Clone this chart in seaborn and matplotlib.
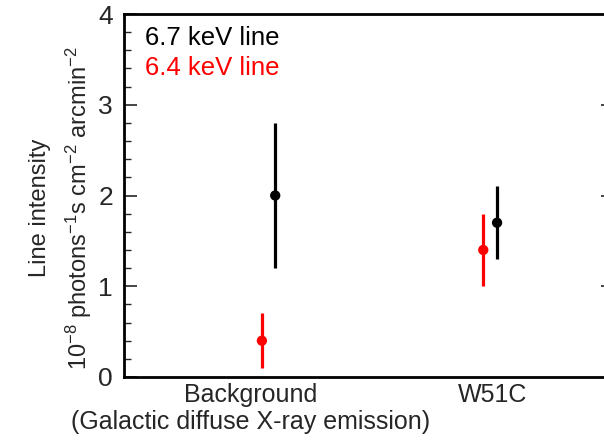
""" Fe line intensities: background vs W51C """

import seaborn as sns
import matplotlib.pyplot as plt
import pandas as pd

# values (10^-8 photons s^-1 cm^-2 arcmin^-2)
regions = ['Background', 'W51C']
region_labels = ['Background\n(Galactic diffuse X-ray emission)', 'W51C']
lines = ['6.7 keV line', '6.4 keV line']
val_67 = [2.0, 1.7]
low_67 = [1.2, 1.3]
high_67 = [2.8, 2.1]
val_64 = [0.4, 1.4]
low_64 = [0.1, 1.0]
high_64 = [0.7, 1.8]

colors = {'6.7 keV line': 'black', '6.4 keV line': '#ff0000'}
# horizontal shift of each line inside a category
shift = {('Background', '6.7 keV line'): 0.10, ('Background', '6.4 keV line'): 0.045,
         ('W51C', '6.7 keV line'): 0.017, ('W51C', '6.4 keV line'): -0.04}

rows = []
for ln, vals, lo, hi in [(lines[0], val_67, low_67, high_67),
                         (lines[1], val_64, low_64, high_64)]:
    for i, reg in enumerate(regions):
        rows.append({'region': reg, 'line': ln, 'x': i + shift[(reg, ln)],
                     'value': vals[i], 'low': lo[i], 'high': hi[i]})
df = pd.DataFrame(rows)

sns.set_style('ticks')
plt.rcParams['font.family'] = ['Liberation Sans', 'DejaVu Sans']
plt.rcParams['mathtext.fontset'] = 'custom'
plt.rcParams['mathtext.rm'] = 'Liberation Sans'
plt.rcParams['mathtext.default'] = 'regular'

fig = plt.figure(figsize=(6.04, 4.41), dpi=100)
ax = fig.add_axes([124 / 604, 1 - 377 / 441, 1 - 124 / 604, (377 - 14) / 441])

for ln in lines:
    sub = df[df['line'] == ln]
    ax.vlines(sub['x'], sub['low'], sub['high'], color=colors[ln], lw=2.3, zorder=2)
sns.scatterplot(data=df, x='x', y='value', hue='line', palette=colors,
                s=55, edgecolor='none', legend=False, ax=ax, zorder=3)

ax.set_xlim(-0.525, 1.459)
ax.set_ylim(0, 4)
ax.set_xticks(range(len(regions)))
ax.set_xticklabels(region_labels, fontsize=18, linespacing=1.2)
ax.set_yticks([0, 1, 2, 3, 4])
ax.set_yticks([i / 5 for i in range(21)], minor=True)
ax.tick_params(axis='y', which='major', direction='in', length=9, width=1.2,
               labelsize=19, pad=8)
ax.tick_params(axis='y', which='minor', direction='in', length=5, width=1.0)
ax.tick_params(axis='x', length=0, pad=4)
ax.set_xlabel('')
ax.set_ylabel('')
for side in ['left', 'bottom', 'top']:
    ax.spines[side].set_linewidth(2)
    ax.spines[side].set_color('black')
ax.spines['right'].set_visible(False)

# short ticks on the right edge
right = ax.secondary_yaxis('right')
right.set_yticks([1, 2, 3])
right.tick_params(direction='in', length=2.5, width=1.2, labelright=False)
right.spines['right'].set_visible(False)

# legend written as coloured text
ax.text(0.043, 0.934, '6.7 keV line', color='black', fontsize=18.5,
        transform=ax.transAxes, va='center', ha='left')
ax.text(0.043, 0.851, '6.4 keV line', color='#ff0000', fontsize=18.5,
        transform=ax.transAxes, va='center', ha='left')

fig.text(40 / 604, 1 - 208 / 441, 'Line intensity', rotation=90,
         fontsize=17, ha='center', va='center')
fig.text(79 / 604, 1 - 208 / 441,
         r'10$^{-8}$ photons$^{-1}$s cm$^{-2}$ arcmin$^{-2}$', rotation=90,
         fontsize=17, ha='center', va='center')

plt.savefig('out.png', dpi=100)
plt.close()
